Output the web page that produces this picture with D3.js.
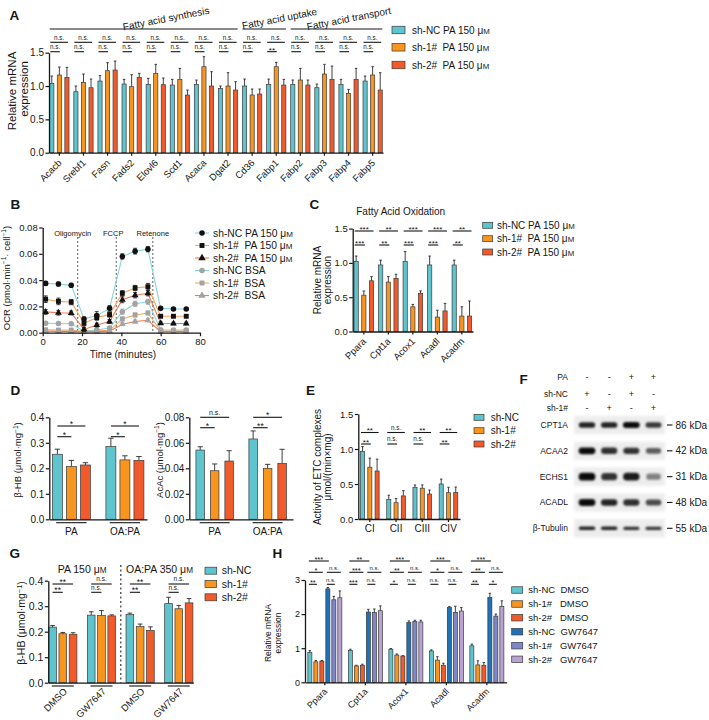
<!DOCTYPE html>
<html><head><meta charset="utf-8">
<script src="https://cdn.jsdelivr.net/npm/d3@7"></script>
<style>body{margin:0;background:#fff}</style>
</head><body>
<script>
// ---------------- DATA ----------------
// Panel A
const aGenes = ["Acacb","Srebf1","Fasn","Fads2","Elovl6","Scd1","Acaca","Dgat2","Cd36","Fabp1","Fabp2","Fabp3","Fabp4","Fabp5"];
const aNC    = [1.04,0.915,1.075,1.03,1.025,1.015,1.025,0.965,1.0,1.025,1.025,0.975,1.025,1.075];
const aNCErr = [0.11,0.085,0.08,0.07,0.09,0.085,0.065,0.035,0.105,0.08,0.065,0.055,0.075,0.075];
const aSh1    = [1.165,1.055,1.23,0.99,1.19,1.10,1.29,1.0,0.865,1.29,1.09,1.18,0.89,1.165];
const aSh1Err = [0.12,0.125,0.12,0.18,0.135,0.165,0.15,0.2,0.09,0.065,0.175,0.145,0.06,0.125];
const aSh2    = [1.13,0.975,1.24,1.13,1.02,0.865,1.0,0.94,0.88,1.015,1.015,1.1,1.1,0.94];
const aSh2Err = [0.15,0.13,0.135,0.06,0.1,0.075,0.215,0.125,0.075,0.085,0.075,0.2,0.165,0.26];
const aSigTop    = ["n.s.","n.s.","n.s.","n.s.","n.s.","n.s.","n.s.","n.s.","n.s.","n.s.","n.s.","n.s.","n.s.","n.s."];
const aSigBottom = ["n.s.","n.s.","n.s.","n.s.","n.s.","n.s.","n.s.","n.s.","n.s.","**","n.s.","n.s.","n.s.","n.s."];
const aGroupLabels = ["Fatty acid synthesis","Fatty acid uptake","Fatty acid transport"];
const aGroupFirst  = ["Acacb","Cd36","Fabp2"];
const aGroupLast   = ["Dgat2","Fabp1","Fabp5"];
const legendPA = ["sh-NC PA 150 μ","sh-1#  PA 150 μ","sh-2#  PA 150 μ"];

// Panel B
const bTime = [1.5,8,14.5,21,27.5,34,40.5,47,53.5,60,66.5,73];
const bNCPA    = [0.0375,0.037,0.036,0.0105,0.013,0.0185,0.058,0.062,0.0635,0.0185,0.018,0.018];
const bNCPAErr = [0.0015,0.0015,0.0015,0.0015,0.003,0.002,0.002,0.0022,0.002,0.001,0.001,0.001];
const bSh1PA    = [0.0255,0.0238,0.0233,0.0072,0.0115,0.0138,0.030,0.034,0.035,0.0125,0.0125,0.0125];
const bSh1PAErr = [0.0025,0.0025,0.002,0.002,0.002,0.002,0.002,0.002,0.0025,0.001,0.001,0.001];
const bSh2PA    = [0.0158,0.0152,0.015,0.0025,0.0058,0.0085,0.025,0.0285,0.030,0.0072,0.007,0.007];
const bSh2PAErr = [0.0018,0.0018,0.0015,0.0015,0.0015,0.0015,0.0022,0.002,0.002,0.001,0.001,0.001];
const bNCBSA    = [0.0072,0.007,0.0068,0.0012,0.002,0.0035,0.016,0.022,0.0235,0.0022,0.002,0.002];
const bNCBSAErr = [0.001,0.001,0.001,0.0008,0.001,0.0012,0.002,0.002,0.002,0.0008,0.0008,0.0008];
const bSh1BSA    = [0.0022,0.002,0.002,0.0008,0.0012,0.0018,0.0105,0.0135,0.015,0.0015,0.0012,0.0012];
const bSh1BSAErr = [0.0008,0.0008,0.0008,0.0006,0.0006,0.0008,0.0015,0.0015,0.0015,0.0006,0.0006,0.0006];
const bSh2BSA    = [0.0012,0.001,0.001,0.0005,0.0008,0.0012,0.0065,0.0085,0.0095,0.0008,0.0008,0.0008];
const bSh2BSAErr = [0.0006,0.0006,0.0006,0.0005,0.0005,0.0006,0.0012,0.0012,0.0012,0.0005,0.0005,0.0005];
const bInjectTime = [17.8,37.4,56];
const bInjectLabel = ["Oligomycin","FCCP","Retenone"];
const bLegend = ["sh-NC PA 150 μ","sh-1#  PA 150 μ","sh-2#  PA 150 μ","sh-NC BSA","sh-1#  BSA","sh-2#  BSA"];

// Panel C
const cGenes = ["Ppara","Cpt1a","Acox1","Acadl","Acadm"];
const cNC = [1.02,0.97,1.02,0.97,0.97];   const cNCErr = [0.08,0.07,0.145,0.13,0.07];
const cSh1 = [0.53,0.72,0.36,0.21,0.225]; const cSh1Err = [0.06,0.08,0.035,0.1,0.135];
const cSh2 = [0.74,0.775,0.557,0.30,0.225]; const cSh2Err = [0.06,0.06,0.035,0.11,0.22];
const cSigTop = ["***","**","***","***","**"];
const cSigBottom = ["***","**","***","***","**"];

// Panel D
const dGroups = ["PA","OA:PA"];
const dHbNC = [0.255,0.285];  const dHbNCErr = [0.02,0.033];
const dHbSh1 = [0.207,0.233]; const dHbSh1Err = [0.024,0.016];
const dHbSh2 = [0.213,0.231]; const dHbSh2Err = [0.009,0.015];
const dHbSigTop = ["*","*"]; const dHbSigBottom = ["*","*"];
const dAcNC = [0.0543,0.063];  const dAcNCErr = [0.0026,0.0063];
const dAcSh1 = [0.0381,0.040]; const dAcSh1Err = [0.0053,0.0031];
const dAcSh2 = [0.0457,0.0439]; const dAcSh2Err = [0.0081,0.011];
const dAcSigTop = ["n.s.","*"]; const dAcSigBottom = ["*","**"];

// Panel E
const eComplex = ["CI","CII","CIII","CIV"];
const eNC = [0.965,0.28,0.453,0.5];   const eNCErr = [0.07,0.06,0.033,0.07];
const eSh1 = [0.74,0.233,0.44,0.376]; const eSh1Err = [0.13,0.06,0.047,0.077];
const eSh2 = [0.686,0.33,0.357,0.38]; const eSh2Err = [0.17,0.075,0.057,0.077];
const eSigTop = ["**","n.s.","**","**"];
const eSigBottom = ["**","n.s.","n.s.","**"];
const legendShort = ["sh-NC","sh-1#","sh-2#"];

// Panel F
const fProteins = ["CPT1A","ACAA2","ECHS1","ACADL","β-Tubulin"];
const fKDa = ["86 kDa","42 kDa","31 kDa","48 kDa","55 kDa"];
const fPA  = ["-","-","+","+"];
const fNC  = ["+","-","+","-"];
const fSh1 = ["-","+","-","+"];
const fCPT1A = [0.85,0.85,0.95,0.75];
const fACAA2 = [0.95,0.8,0.78,0.6];
const fECHS1 = [0.95,0.78,0.88,0.45];
const fACADL = [0.95,0.85,0.8,0.68];
const fTubulin = [0.85,0.85,0.8,0.78];

// Panel G
const gTreat = ["DMSO","GW7647","DMSO","GW7647"];
const gCond = ["PA 150 μ","OA:PA 350 μ"];
const gNC = [0.218,0.265,0.267,0.31];  const gNCErr = [0.006,0.013,0.006,0.025];
const gSh1 = [0.192,0.263,0.22,0.29];  const gSh1Err = [0.005,0.02,0.01,0.013];
const gSh2 = [0.19,0.262,0.205,0.313]; const gSh2Err = [0.006,0.004,0.014,0.017];
const gSigTop = ["**","n.s.","**","n.s."];
const gSigBottom = ["**","n.s.","**","n.s."];

// Panel H
const hGenes = ["Ppara","Cpt1a","Acox1","Acadl","Acadm"];
const hNCD = [0.88,0.93,0.97,0.92,1.07];  const hNCDErr = [0.05,0.04,0.02,0.03,0.05];
const hSh1D = [0.6,0.48,0.8,0.65,0.51];   const hSh1DErr = [0.04,0.02,0.03,0.1,0.12];
const hSh2D = [0.62,0.5,0.77,0.5,0.5];    const hSh2DErr = [0.02,0.03,0.01,0.06,0.08];
const hNCG = [2.74,2.06,1.75,2.19,2.49];  const hNCGErr = [0.04,0.08,0.05,0.03,0.12];
const hSh1G = [2.42,2.05,1.78,2.05,1.94]; const hSh1GErr = [0.1,0.1,0.04,0.18,0.06];
const hSh2G = [2.48,2.1,1.77,2.09,2.22];  const hSh2GErr = [0.2,0.14,0.05,0.1,0.17];
const hSig1  = ["***","**","***","***","***"];
const hSig2a = ["*","***","**","*","**"];
const hSig2b = ["n.s.","n.s.","n.s.","n.s.","n.s."];
const hSig3a = ["**","***","*","n.s.","**"];
const hSig3b = ["n.s.","n.s.","n.s.","n.s.","*"];
const hLegend = ["sh-NC  DMSO","sh-1#   DMSO","sh-2#   DMSO","sh-NC  GW7647","sh-1#   GW7647","sh-2#   GW7647"];

// ---------------- STYLE ----------------
const FONT = '"Liberation Sans", Arial, Helvetica, sans-serif';
const C_CYAN="#5ec5cf", C_ORANGE="#f7951f", C_RED="#f15a2b", C_BLUE="#1f72b8", C_PURPLE="#7e87c8", C_LAV="#baa3d3";
const L_CYAN="#86d5da", L_ORANGE="#f8a65c", L_RED="#f2774c", M_GRAY="#a3a3a3";
const INK="#161616";

const svg = d3.select("body").append("svg").attr("width",709).attr("height",720);
const defs = svg.append("defs");
defs.append("filter").attr("id","blur").attr("x","-30%").attr("y","-80%").attr("width","160%").attr("height","260%")
  .append("feGaussianBlur").attr("stdDeviation",1.3);
defs.append("filter").attr("id","blurBg").attr("x","-10%").attr("y","-40%").attr("width","120%").attr("height","180%")
  .append("feGaussianBlur").attr("stdDeviation",1.5);

function addText(g, x, y, s, o = {}) {
  const size = o.size || 9.5;
  const t = g.append("text").attr("x",x).attr("y",y).attr("font-size",size).attr("font-family",FONT)
    .attr("text-anchor",o.anchor||"start").attr("fill",o.fill||INK).style("white-space","pre");
  if (o.weight) t.attr("font-weight",o.weight);
  if (o.rotate != null) t.attr("transform",`rotate(${o.rotate},${x},${y})`);
  if (typeof s === "string") t.text(s);
  else s.forEach(p => { const ts = t.append("tspan").text(p.t); if (p.dy) ts.attr("dy",p.dy); if (p.k) ts.attr("font-size",size*p.k); });
  return t;
}
const uM = s => [{t:s},{t:"M",k:0.78}];
const perMg = s => [{t:s+" (μmol·mg"},{t:"−1",dy:-3.5,k:0.7},{t:")",dy:3.5}];

function styleAxis(a, size) {
  a.select(".domain").attr("stroke",INK).attr("stroke-width",1.3);
  a.selectAll(".tick line").attr("stroke",INK).attr("stroke-width",1.2);
  a.selectAll(".tick text").attr("font-size",size).attr("font-family",FONT).attr("fill",INK);
}
function yAxis(g, y, x, ticks, fmt, size) {
  const a = g.append("g").attr("transform",`translate(${x},0)`)
    .call(d3.axisLeft(y).tickValues(ticks).tickFormat(d3.format(fmt)).tickSize(3.5).tickSizeOuter(0).tickPadding(1.5));
  styleAxis(a, size || 9.5);
  return a;
}
function xAxis(g, x, yPos, tickLen) {
  const a = g.append("g").attr("transform",`translate(0,${yPos})`)
    .call(d3.axisBottom(x).tickSize(tickLen).tickSizeOuter(0).tickFormat(""));
  styleAxis(a, 9);
  return a;
}
function groupedBars(g, x0, cats, series, y, pad) {
  const x1 = d3.scaleBand().domain(d3.range(series.length)).range([0, x0.bandwidth()]).paddingInner(pad);
  const w = x1.bandwidth(), cap = Math.min(w*0.6, 5.5);
  series.forEach((s, si) => {
    cats.forEach((c, ci) => {
      const v = s.vals[ci], e = s.errs[ci];
      const bx = x0(c) + x1(si), cx = bx + w/2;
      g.append("line").attr("x1",cx).attr("x2",cx).attr("y1",y(v)).attr("y2",y(v+e)).attr("stroke","#2a2a2a").attr("stroke-width",0.9);
      g.append("line").attr("x1",cx-cap/2).attr("x2",cx+cap/2).attr("y1",y(v+e)).attr("y2",y(v+e)).attr("stroke","#2a2a2a").attr("stroke-width",0.9);
      g.append("rect").attr("x",bx).attr("y",y(v)).attr("width",w).attr("height",y(0)-y(v))
        .attr("fill",s.color).attr("stroke","#3a3a3a").attr("stroke-width",0.7);
    });
  });
  return (c, si) => x0(c) + x1(si) + w/2;
}
function sig(g, xa, xb, yl, label, o = {}) {
  g.append("line").attr("x1",xa).attr("x2",xb).attr("y1",yl).attr("y2",yl).attr("stroke",INK).attr("stroke-width",o.sw||1.1);
  const ns = label === "n.s.";
  addText(g, (xa+xb)/2, ns ? yl - 2.6 : yl + 0.8, label, {anchor:"middle", size: ns ? (o.ns||6.3) : (o.star||8)});
}
function swatchLegend(g, labels, colors, x, ys, sw, sh, tx, size) {
  labels.forEach((l, i) => {
    g.append("rect").attr("x",x).attr("y",ys[i]-sh/2).attr("width",sw).attr("height",sh)
      .attr("fill",colors[i]).attr("stroke","#3a3a3a").attr("stroke-width",0.7);
    addText(g, tx, ys[i]+size*0.36, l, {size});
  });
}
function panelLabel(x, y, s) { addText(svg, x, y, s, {size:13.5, weight:"bold"}); }

// ---------------- PANEL A ----------------
{
  const g = svg.append("g");
  const y = d3.scaleLinear().domain([0,1.5]).range([152.7,52.7]);
  const x = d3.scaleBand().domain(aGenes).range([49,383]).paddingInner(0.2).paddingOuter(0.03);
  const cx = groupedBars(g, x, aGenes, [
    {vals:aNC, errs:aNCErr, color:C_CYAN},
    {vals:aSh1, errs:aSh1Err, color:C_ORANGE},
    {vals:aSh2, errs:aSh2Err, color:C_RED}], y, 0.45);
  yAxis(g, y, 49, [0,0.5,1,1.5], ".1f", 10);
  xAxis(g, x, 152.7, 3);
  aGenes.forEach((gn, i) => {
    addText(g, x(gn)+x.bandwidth()/2+3, 163.5, gn, {anchor:"end", rotate:-45, size:9.5});
    sig(g, cx(gn,0)-1.5, cx(gn,2)+1, 42.3, aSigTop[i]);
    sig(g, cx(gn,0)-1.5, cx(gn,1)+0.5, 51.7, aSigBottom[i]);
  });
  const textShift = [23, 16, 13];
  aGroupLabels.forEach((lab, i) => {
    const xs = x(aGroupFirst[i]), xe = x(aGroupLast[i]) + x.bandwidth();
    g.append("line").attr("x1",xs).attr("x2",xe).attr("y1",29).attr("y2",29).attr("stroke",INK).attr("stroke-width",1.2);
    addText(g, (xs+xe)/2 + textShift[i], 22, lab, {anchor:"middle", size:10, rotate:-11});
  });
  addText(g, 16, 91, "Relative mRNA", {anchor:"middle", rotate:-90, size:11.5});
  addText(g, 27.5, 89, "expression", {anchor:"middle", rotate:-90, size:11.5});
  swatchLegend(g, legendPA.map(uM), [C_CYAN,C_ORANGE,C_RED], 392, [30,47.3,65], 13, 7.5, 412, 10);
  panelLabel(9.5, 20, "A");
}

// ---------------- PANEL B ----------------
{
  const g = svg.append("g");
  const x = d3.scaleLinear().domain([0,80]).range([42.7,200]);
  const y = d3.scaleLinear().domain([0,0.08]).range([332.7,227.5]);
  bInjectTime.forEach((t, i) => {
    g.append("line").attr("x1",x(t)).attr("x2",x(t)).attr("y1",237).attr("y2",332.7)
      .attr("stroke","#333").attr("stroke-width",0.8).attr("stroke-dasharray","2,2");
    addText(g, x(t) - [5,3,0][i], 235.5, bInjectLabel[i], {anchor:"middle", size:7.5});
  });
  const series = [
    {v:bNCBSA, e:bNCBSAErr, line:L_CYAN, fill:M_GRAY, sym:d3.symbolCircle},
    {v:bSh1BSA, e:bSh1BSAErr, line:L_ORANGE, fill:M_GRAY, sym:d3.symbolSquare},
    {v:bSh2BSA, e:bSh2BSAErr, line:L_RED, fill:M_GRAY, sym:d3.symbolTriangle},
    {v:bSh2PA, e:bSh2PAErr, line:L_RED, fill:"#111", sym:d3.symbolTriangle},
    {v:bSh1PA, e:bSh1PAErr, line:L_ORANGE, fill:"#111", sym:d3.symbolSquare},
    {v:bNCPA, e:bNCPAErr, line:L_CYAN, fill:"#111", sym:d3.symbolCircle}];
  const line = d3.line().x((d,i)=>x(bTime[i])).y(d=>y(d));
  series.forEach(s => {
    g.append("path").attr("d",line(s.v)).attr("fill","none").attr("stroke",s.line).attr("stroke-width",1.1);
  });
  series.forEach(s => {
    s.v.forEach((v,i) => {
      const px = x(bTime[i]);
      g.append("line").attr("x1",px).attr("x2",px).attr("y1",y(v-s.e[i])).attr("y2",y(v+s.e[i])).attr("stroke",s.fill).attr("stroke-width",0.8);
      [v-s.e[i], v+s.e[i]].forEach(b => g.append("line").attr("x1",px-2).attr("x2",px+2).attr("y1",y(b)).attr("y2",y(b)).attr("stroke",s.fill).attr("stroke-width",0.8));
      g.append("path").attr("d",d3.symbol(s.sym, s.sym===d3.symbolTriangle?20:24)()).attr("transform",`translate(${px},${y(v)})`).attr("fill",s.fill);
    });
  });
  yAxis(g, y, 42.7, [0,0.02,0.04,0.06,0.08], ".2f", 9.5);
  const ax = g.append("g").attr("transform","translate(0,332.7)")
    .call(d3.axisBottom(x).tickValues([0,20,40,60,80]).tickSize(3.5).tickSizeOuter(0).tickPadding(2));
  styleAxis(ax, 9.5);
  addText(g, 123, 358, "Time (minutes)", {anchor:"middle", size:10});
  addText(g, 9.5, 278, [{t:"OCR (pmol·min"},{t:"−1",dy:-3.5,k:0.7},{t:"· cell",dy:3.5},{t:"−1",dy:-3.5,k:0.7},{t:")",dy:3.5}], {anchor:"middle", rotate:-90, size:9.5});
  const legY = [233,245.5,258,270.5,283,295.5];
  const legColor = [L_CYAN,L_ORANGE,L_RED,L_CYAN,L_ORANGE,L_RED];
  const legFill = ["#111","#111","#111",M_GRAY,M_GRAY,M_GRAY];
  const legSym = [d3.symbolCircle,d3.symbolSquare,d3.symbolTriangle,d3.symbolCircle,d3.symbolSquare,d3.symbolTriangle];
  bLegend.forEach((l,i) => {
    g.append("line").attr("x1",195).attr("x2",209).attr("y1",legY[i]).attr("y2",legY[i]).attr("stroke",legColor[i]).attr("stroke-width",1.1);
    g.append("path").attr("d",d3.symbol(legSym[i], 24)()).attr("transform",`translate(202,${legY[i]})`).attr("fill",legFill[i]);
    addText(g, 213, legY[i]+3.6, i<3 ? uM(l) : l, {size:10.3});
  });
  panelLabel(10.5, 208.5, "B");
}

// ---------------- PANEL C ----------------
{
  const g = svg.append("g");
  const y = d3.scaleLinear().domain([0,1.5]).range([331.5,228.6]);
  const x = d3.scaleBand().domain(cGenes).range([352.7,473]).paddingInner(0.2).paddingOuter(0.055);
  const cx = groupedBars(g, x, cGenes, [
    {vals:cNC, errs:cNCErr, color:C_CYAN},
    {vals:cSh1, errs:cSh1Err, color:C_ORANGE},
    {vals:cSh2, errs:cSh2Err, color:C_RED}], y, 0.45);
  yAxis(g, y, 352.7, [0,0.5,1,1.5], ".1f", 9.5);
  xAxis(g, x, 331.5, 3);
  cGenes.forEach((gn,i) => {
    addText(g, x(gn)+x.bandwidth()/2+3, 342, gn, {anchor:"end", rotate:-45, size:9.5});
    sig(g, cx(gn,0)-1.5, cx(gn,2)+2, 231, cSigTop[i], {star:8});
    sig(g, cx(gn,0)-1.5, cx(gn,1)+1, 245, cSigBottom[i], {star:8});
  });
  addText(g, 400.7, 215, "Fatty Acid Oxidation", {anchor:"middle", size:10});
  addText(g, 320.5, 280, "Relative mRNA", {anchor:"middle", rotate:-90, size:10});
  addText(g, 331, 280, "expression", {anchor:"middle", rotate:-90, size:10});
  swatchLegend(g, legendPA.map(uM), [C_CYAN,C_ORANGE,C_RED], 482.7, [225.3,238.7,252], 10, 6, 497, 10);
  panelLabel(309.5, 209.3, "C");
}

// ---------------- PANEL D ----------------
{
  const g = svg.append("g");
  const y = d3.scaleLinear().domain([0,0.4]).range([519.3,417.3]);
  const x = d3.scaleBand().domain(dGroups).range([49.3,147]).paddingInner(0.29).paddingOuter(0.058);
  const cx = groupedBars(g, x, dGroups, [
    {vals:dHbNC, errs:dHbNCErr, color:C_CYAN},
    {vals:dHbSh1, errs:dHbSh1Err, color:C_ORANGE},
    {vals:dHbSh2, errs:dHbSh2Err, color:C_RED}], y, 0.29);
  yAxis(g, y, 49.3, [0,0.1,0.2,0.3,0.4], ".1f", 10);
  xAxis(g, x, 519.3, 0);
  dGroups.forEach((gr,i) => {
    const c = x(gr)+x.bandwidth()/2, h = x.bandwidth()*0.4;
    g.append("line").attr("x1",c-h).attr("x2",c+h).attr("y1",522.7).attr("y2",522.7).attr("stroke",INK).attr("stroke-width",1.1);
    addText(g, c, 535, gr, {anchor:"middle", size:10});
    sig(g, cx(gr,0), cx(gr,2), 426, dHbSigTop[i], {star:8.5, ns:7});
    sig(g, cx(gr,0), cx(gr,1), 436.7, dHbSigBottom[i], {star:8.5, ns:7});
  });
  addText(g, 21, 460, perMg("β-HB"), {anchor:"middle", rotate:-90, size:9.5});

  const y2 = d3.scaleLinear().domain([0,0.08]).range([519.3,417.3]);
  const x2 = d3.scaleBand().domain(dGroups).range([189.3,293]).paddingInner(0.292).paddingOuter(0.125);
  const cx2 = groupedBars(g, x2, dGroups, [
    {vals:dAcNC, errs:dAcNCErr, color:C_CYAN},
    {vals:dAcSh1, errs:dAcSh1Err, color:C_ORANGE},
    {vals:dAcSh2, errs:dAcSh2Err, color:C_RED}], y2, 0.41);
  yAxis(g, y2, 189.3, [0,0.02,0.04,0.06,0.08], ".2f", 10);
  xAxis(g, x2, 519.3, 0);
  dGroups.forEach((gr,i) => {
    const c = x2(gr)+x2.bandwidth()/2, h = x2.bandwidth()*0.4;
    g.append("line").attr("x1",c-h).attr("x2",c+h).attr("y1",522.7).attr("y2",522.7).attr("stroke",INK).attr("stroke-width",1.1);
    addText(g, c, 535, gr, {anchor:"middle", size:10});
    sig(g, cx2(gr,0), cx2(gr,2), 417.3, dAcSigTop[i], {star:8.5, ns:7});
    sig(g, cx2(gr,0), cx2(gr,1), 427.7, dAcSigBottom[i], {star:8.5, ns:7});
  });
  addText(g, 162.5, 460, perMg("AcAc"), {anchor:"middle", rotate:-90, size:9.5});
  panelLabel(10.5, 395, "D");
}

// ---------------- PANEL E ----------------
{
  const g = svg.append("g");
  const y = d3.scaleLinear().domain([0,1.5]).range([519,414]);
  const x = d3.scaleBand().domain(eComplex).range([358.3,460]).paddingInner(0.29).paddingOuter(0.085);
  const cx = groupedBars(g, x, eComplex, [
    {vals:eNC, errs:eNCErr, color:C_CYAN},
    {vals:eSh1, errs:eSh1Err, color:C_ORANGE},
    {vals:eSh2, errs:eSh2Err, color:C_RED}], y, 0.44);
  yAxis(g, y, 358.3, [0,0.5,1,1.5], ".1f", 9.5);
  xAxis(g, x, 519, 3);
  eComplex.forEach((c,i) => {
    addText(g, x(c)+x.bandwidth()/2, 532, c, {anchor:"middle", size:10});
    sig(g, cx(c,0)-1.5, cx(c,2)+1.5, 432.5, eSigTop[i]);
    sig(g, cx(c,0)-1.5, cx(c,1)+1, 444, eSigBottom[i]);
  });
  addText(g, 320.5, 467, "Activity of ETC complexes", {anchor:"middle", rotate:-90, size:10});
  addText(g, 331, 467, "μmol/(min×mg)", {anchor:"middle", rotate:-90, size:10});
  swatchLegend(g, legendShort, [C_CYAN,C_ORANGE,C_RED], 474, [417.3,430.7,444], 10, 6, 490.7, 10);
  panelLabel(306, 395, "E");
}

// ---------------- PANEL F ----------------
{
  const g = svg.append("g");
  const col = d3.scalePoint().domain(d3.range(4)).range([587,653.5]);
  const row = d3.scalePoint().domain(fProteins).range([425,528.3]);
  const heads = [["PA",fPA,380],["sh-NC",fNC,396.5],["sh-1#",fSh1,411]];
  heads.forEach(([lab, signs, yy]) => {
    addText(g, 568, yy, lab, {anchor:"end", size:8.5});
    signs.forEach((s,i) => addText(g, col(i), yy, s, {anchor:"middle", size:9}));
  });
  const intens = [fCPT1A, fACAA2, fECHS1, fACADL, fTubulin];
  const bandH = [6, 7, 8, 7, 3.6];
  fProteins.forEach((p, r) => {
    const yy = row(p);
    g.append("rect").attr("x",574).attr("y",yy-9).attr("width",91).attr("height",18)
      .attr("fill","#ececec").attr("filter","url(#blurBg)");
    intens[r].forEach((v,i) => {
      const w = 17 * (0.75 + 0.25*v), h = bandH[r] * (0.6 + 0.4*v);
      g.append("rect").attr("x",col(i)-w/2).attr("y",yy-h/2).attr("width",w).attr("height",h).attr("rx",h/2)
        .attr("fill","#050505").attr("opacity",v).attr("filter","url(#blur)");
    });
    addText(g, 568, yy+3, p, {anchor:"end", size:8.5});
    g.append("line").attr("x1",667).attr("x2",672.5).attr("y1",yy).attr("y2",yy).attr("stroke",INK).attr("stroke-width",1.1);
    addText(g, 675.5, yy+3.5, fKDa[r], {size:10});
  });
  panelLabel(519.5, 383.5, "F");
}

// ---------------- PANEL G ----------------
{
  const g = svg.append("g");
  const y = d3.scaleLinear().domain([0,0.4]).range([682.7,580.7]);
  const idx = d3.range(gTreat.length);
  const x = d3.scaleBand().domain(idx).range([48.3,193.3]).paddingInner(0.27).paddingOuter(0.01);
  const cx = groupedBars(g, x, idx, [
    {vals:gNC, errs:gNCErr, color:C_CYAN},
    {vals:gSh1, errs:gSh1Err, color:C_ORANGE},
    {vals:gSh2, errs:gSh2Err, color:C_RED}], y, 0.25);
  yAxis(g, y, 48.3, [0,0.1,0.2,0.3,0.4], ".1f", 10.5);
  xAxis(g, x, 682.7, 0);
  const divX = (x(1)+x.bandwidth()+x(2))/2;
  g.append("line").attr("x1",divX).attr("x2",divX).attr("y1",565).attr("y2",682.7)
    .attr("stroke","#333").attr("stroke-width",1.2).attr("stroke-dasharray","2,2.5");
  gCond.forEach((c,i) => {
    const cc = (x(2*i) + x(2*i+1) + x.bandwidth())/2;
    addText(g, cc, 572.5, uM(c), {anchor:"middle", size:10.5});
  });
  idx.forEach(i => {
    const c = x(i)+x.bandwidth()/2, h = x.bandwidth()*0.39;
    g.append("line").attr("x1",c-h).attr("x2",c+h).attr("y1",686).attr("y2",686).attr("stroke",INK).attr("stroke-width",1.1);
    addText(g, c+5, 692, gTreat[i], {anchor:"end", rotate:-45, size:9.5});
    sig(g, cx(i,0), cx(i,2), 584, gSigTop[i], {star:8.5, ns:6.5});
    sig(g, cx(i,0), cx(i,1), 592.3, gSigBottom[i], {star:8.5, ns:6.5});
  });
  addText(g, 25, 623, perMg("β-HB"), {anchor:"middle", rotate:-90, size:10.5});
  swatchLegend(g, legendShort, [C_CYAN,C_ORANGE,C_RED], 205, [570.7,584,597.3], 11.7, 7, 221.7, 10.5);
  panelLabel(9.5, 558, "G");
}

// ---------------- PANEL H ----------------
{
  const g = svg.append("g");
  const y = d3.scaleLinear().domain([0,3]).range([682.3,580]);
  const x = d3.scaleBand().domain(hGenes).range([305,506.7]).paddingInner(0.16).paddingOuter(0.07);
  const cols = [C_CYAN,C_ORANGE,C_RED,C_BLUE,C_PURPLE,C_LAV];
  const cx = groupedBars(g, x, hGenes, [
    {vals:hNCD, errs:hNCDErr, color:cols[0]},
    {vals:hSh1D, errs:hSh1DErr, color:cols[1]},
    {vals:hSh2D, errs:hSh2DErr, color:cols[2]},
    {vals:hNCG, errs:hNCGErr, color:cols[3]},
    {vals:hSh1G, errs:hSh1GErr, color:cols[4]},
    {vals:hSh2G, errs:hSh2GErr, color:cols[5]}], y, 0.33);
  yAxis(g, y, 305, [0,1,2,3], "d", 9);
  xAxis(g, x, 682.3, 3);
  hGenes.forEach((gn,i) => {
    addText(g, x(gn)+x.bandwidth()/2+3, 692, gn, {anchor:"end", rotate:-45, size:9});
    const o = {star:7.5, ns:6};
    sig(g, cx(gn,0)-1, cx(gn,3)+1, 561, hSig1[i], o);
    sig(g, cx(gn,0)-1, cx(gn,2)+1, 572.3, hSig2a[i], o);
    sig(g, cx(gn,3)-1, cx(gn,5)+1, 572.3, hSig2b[i], o);
    sig(g, cx(gn,0)-1, cx(gn,1)+1, 584.3, hSig3a[i], o);
    sig(g, cx(gn,3)-1, cx(gn,4)+1, 584.3, hSig3b[i], o);
  });
  addText(g, 270.5, 633, "Relative mRNA", {anchor:"middle", rotate:-90, size:8.5});
  addText(g, 280.5, 633, "expression", {anchor:"middle", rotate:-90, size:8.5});
  swatchLegend(g, hLegend, cols, 511.7, [590,604,617.7,631.7,645.7,659.3], 11, 6.5, 528.3, 9.5);
  panelLabel(272.5, 558, "H");
}
</script>
</body></html>
